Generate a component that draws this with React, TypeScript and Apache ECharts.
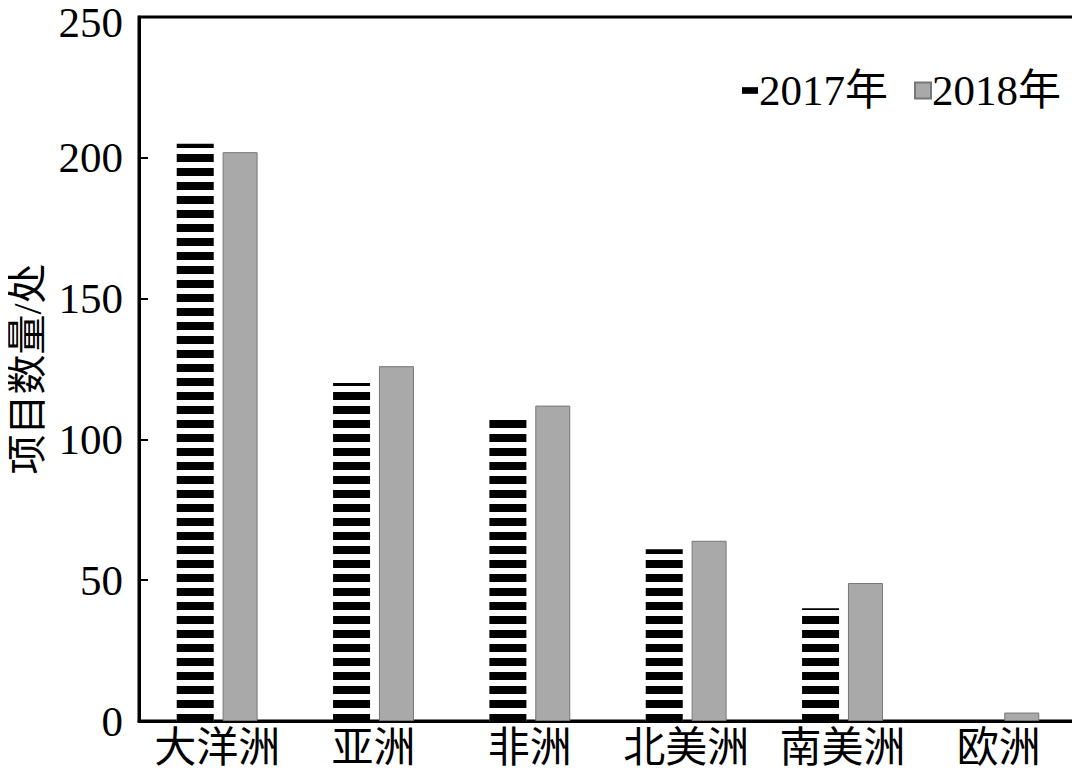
import React, { useEffect, useRef } from "react";
import * as echarts from "echarts";

const categories = ["大洋洲", "亚洲", "非洲", "北美洲", "南美洲", "欧洲"];
const values2017 = [205, 120, 107, 61, 40, 0];
const values2018 = [202, 126, 112, 64, 49, 3];
const seriesNames = ["2017年", "2018年"];
const yAxisName = "项目数量/处";

const FONT = "'Liberation Serif', 'Times New Roman', 'Noto Sans CJK SC', serif";

export default function App() {
  const ref = useRef<HTMLDivElement>(null);
  useEffect(() => {
    if (!ref.current) return;
    const chart = echarts.init(ref.current, undefined, { renderer: "svg" });
    chart.setOption({
      animation: false,
      backgroundColor: "#fff",
      textStyle: { fontFamily: FONT },
      grid: {
        left: 139,
        right: 3,
        top: 17,
        bottom: 55,
        show: true,
        borderColor: "#000",
        borderWidth: 3,
        outerBoundsMode: "none",
        containLabel: false,
      },
      legend: {
        right: 14,
        top: 64,
        itemWidth: 16,
        itemHeight: 16,
        itemGap: 26,
        textStyle: { fontSize: 43, fontFamily: FONT, color: "#000", padding: [0, 0, 0, -4] },
        data: [
          { name: seriesNames[0], icon: "path://M0,0h12v5h-12z", itemStyle: { color: "#000", decal: "none" } },
          { name: seriesNames[1], icon: "rect", itemStyle: { color: "#a9a9a9" } },
        ],
      },
      xAxis: {
        type: "category",
        data: categories,
        axisLine: { lineStyle: { color: "#000", width: 3 } },
        axisTick: { show: false },
        axisLabel: { fontSize: 42, color: "#000", fontFamily: FONT, margin: 6, interval: 0 },
      },
      yAxis: {
        type: "value",
        min: 0,
        max: 250,
        interval: 50,
        name: yAxisName,
        nameLocation: "middle",
        nameGap: 92,
        nameTextStyle: { fontSize: 40, color: "#000", fontFamily: FONT },
        axisLine: { show: true, lineStyle: { color: "#000", width: 3 } },
        axisTick: { show: true, inside: true, length: 9, lineStyle: { color: "#000", width: 2 } },
        axisLabel: {
          fontSize: 43,
          color: "#000",
          fontFamily: FONT,
          margin: 16,
          formatter: (v: number) => (v === 250 ? `{top|${v}}` : `${v}`),
          rich: {
            top: { fontSize: 43, fontFamily: FONT, color: "#000", lineHeight: 40, padding: [10, 0, 0, 0] },
          },
        },
        splitLine: { show: false },
      },
      series: [
        {
          name: seriesNames[0],
          type: "bar",
          data: values2017,
          barWidth: 37,
          barGap: "24%",
          itemStyle: {
            color: "#fff",
            decal: {
              symbol: "rect",
              symbolSize: 1,
              color: "#000",
              backgroundColor: "#fff",
              dashArrayX: [1, 0],
              dashArrayY: [8, 6],
              rotation: 0,
            },
          },
        },
        {
          name: seriesNames[1],
          type: "bar",
          data: values2018,
          barWidth: 35,
          itemStyle: { color: "#a9a9a9", borderColor: "#777", borderWidth: 1 },
        },
      ],
    });
    return () => chart.dispose();
  }, []);
  return <div ref={ref} style={{ width: 1080, height: 776, marginLeft: -8, marginTop: -8 }} />;
}
